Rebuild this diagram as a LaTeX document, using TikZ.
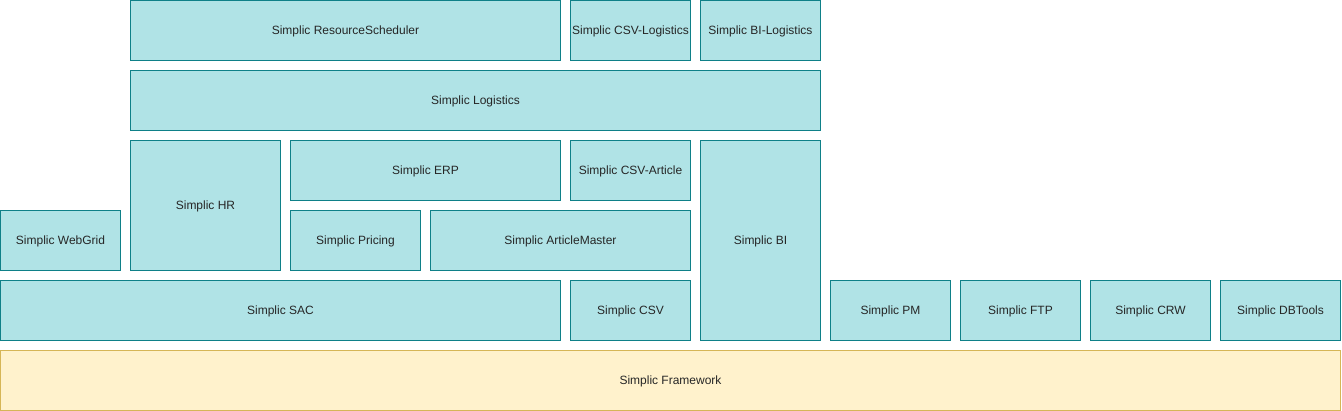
\documentclass[tikz,border=0pt]{standalone}
\usepackage{fontspec}
\setmainfont{Liberation Sans}
\definecolor{tealfill}{HTML}{B0E3E6}
\definecolor{tealline}{HTML}{0E8088}
\definecolor{yelfill}{HTML}{FFF2CC}
\definecolor{yelline}{HTML}{D6B656}
\tikzset{
  box/.style={draw=tealline, fill=tealfill, line width=1pt, inner sep=0pt, text=black!85, font=\fontsize{12}{14}\selectfont, text height=9.8pt, text depth=1.2pt},
  fwbox/.style={box, draw=yelline, fill=yelfill}
}
\newcommand\bx[7][box]{%
  \node[#1, minimum width={#5-#3}, minimum height={#6-#4}] (#2) at ({(#3+#5)/2+0.5},{(#4+#6)/2+0.5}) {#7};}
\begin{document}
\begin{tikzpicture}[x=1pt,y=-1pt]
\useasboundingbox (0,0) rectangle (1342,411);
\bx{rs}{130}{0}{560}{60}{Simplic ResourceScheduler}
\bx{csvl}{570}{0}{690}{60}{Simplic CSV-Logistics}
\bx{bil}{700}{0}{820}{60}{Simplic BI-Logistics}
\bx{log}{130}{70}{820}{130}{Simplic Logistics}
\bx{hr}{130}{140}{280}{270}{Simplic HR}
\bx{erp}{290}{140}{560}{200}{Simplic ERP}
\bx{csva}{570}{140}{690}{200}{Simplic CSV-Article}
\bx{bi}{700}{140}{820}{340}{Simplic BI}
\bx{wg}{0}{210}{120}{270}{Simplic WebGrid}
\bx{pr}{290}{210}{420}{270}{Simplic Pricing}
\bx{am}{430}{210}{690}{270}{Simplic ArticleMaster}
\bx{sac}{0}{280}{560}{340}{Simplic SAC}
\bx{csv}{570}{280}{690}{340}{Simplic CSV}
\bx{pm}{830}{280}{950}{340}{Simplic PM}
\bx{ftp}{960}{280}{1080}{340}{Simplic FTP}
\bx{crw}{1090}{280}{1210}{340}{Simplic CRW}
\bx{dbt}{1220}{280}{1340}{340}{Simplic DBTools}
\bx[fwbox]{fw}{0}{350}{1340}{410}{Simplic Framework}
\end{tikzpicture}
\end{document}
